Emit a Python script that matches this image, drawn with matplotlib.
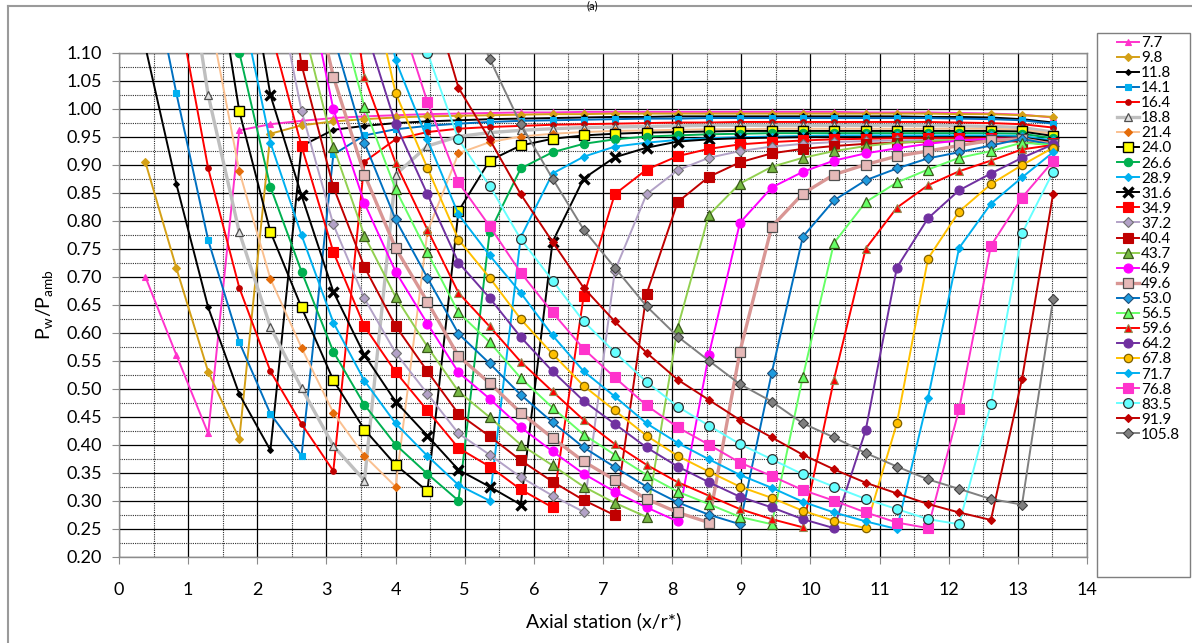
import numpy as np
import matplotlib
matplotlib.use('Agg')
import matplotlib.pyplot as plt
from matplotlib.patches import Rectangle
from matplotlib.lines import Line2D
from matplotlib.ticker import MultipleLocator, FormatStrFormatter

plt.rcParams['font.family'] = ['Lato', 'DejaVu Sans']
plt.rcParams['mathtext.fontset'] = 'custom'
plt.rcParams['mathtext.rm'] = 'Lato'
plt.rcParams['mathtext.it'] = 'Lato'

N = None
# axial stations (x/r*)
x_station = [0.38, 0.83, 1.29, 1.74, 2.19, 2.64, 3.10, 3.55, 4.00, 4.46,
             4.91, 5.36, 5.81, 6.27, 6.72, 7.17, 7.63, 8.08, 8.53, 8.98,
             9.44, 9.89, 10.34, 10.80, 11.25, 11.70, 12.15, 12.61, 13.06, 13.51]

labels = ['7.7', '9.8', '11.8', '14.1', '16.4', '18.8', '21.4', '24.0', '26.6',
          '28.9', '31.6', '34.9', '37.2', '40.4', '43.7', '46.9', '49.6', '53.0',
          '56.5', '59.6', '64.2', '67.8', '71.7', '76.8', '83.5', '91.9', '105.8']

p_7_7 = [0.700, 0.560, 0.420, 0.961, 0.972,
         0.978, 0.983, 0.986, 0.988, 0.990,
         0.991, 0.992, 0.993, 0.993, 0.994,
         0.994, 0.994, 0.994, 0.994, 0.994,
         0.994, 0.994, 0.994, 0.993, 0.993,
         0.993, 0.992, 0.991, 0.989, 0.984]
p_9_8 = [0.905, 0.715, 0.530, 0.410, 0.955,
         0.970, 0.977, 0.981, 0.984, 0.986,
         0.987, 0.988, 0.989, 0.990, 0.990,
         0.991, 0.991, 0.991, 0.991, 0.991,
         0.991, 0.991, 0.991, 0.991, 0.991,
         0.991, 0.990, 0.990, 0.988, 0.985]
p_11_8 = [1.111, 0.865, 0.645, 0.490, 0.390,
          0.933, 0.962, 0.969, 0.974, 0.977,
          0.979, 0.981, 0.982, 0.983, 0.984,
          0.985, 0.985, 0.986, 0.986, 0.986,
          0.986, 0.986, 0.986, 0.986, 0.986,
          0.985, 0.985, 0.984, 0.981, 0.975]
p_14_1 = [1.300, 1.027, 0.765, 0.583, 0.455,
          0.380, 0.918, 0.952, 0.963, 0.969,
          0.973, 0.976, 0.978, 0.979, 0.980,
          0.981, 0.982, 0.982, 0.983, 0.983,
          0.983, 0.983, 0.983, 0.983, 0.983,
          0.983, 0.982, 0.981, 0.979, 0.973]
p_16_4 = [N, 1.200, 0.893, 0.680, 0.531,
          0.437, 0.353, 0.905, 0.945, 0.958,
          0.964, 0.967, 0.969, 0.971, 0.972,
          0.973, 0.974, 0.975, 0.975, 0.976,
          0.976, 0.976, 0.976, 0.976, 0.976,
          0.976, 0.975, 0.974, 0.972, 0.966]
p_18_8 = [N, 1.390, 1.024, 0.779, 0.610,
          0.501, 0.398, 0.336, 0.882, 0.933,
          0.950, 0.957, 0.961, 0.964, 0.966,
          0.967, 0.968, 0.969, 0.970, 0.970,
          0.970, 0.970, 0.970, 0.970, 0.970,
          0.970, 0.969, 0.968, 0.966, 0.958]
p_21_4 = [N, N, 1.179, 0.888, 0.696,
          0.573, 0.457, 0.380, 0.325, 0.780,
          0.920, 0.940, 0.950, 0.955, 0.958,
          0.960, 0.961, 0.962, 0.963, 0.963,
          0.964, 0.964, 0.964, 0.964, 0.964,
          0.964, 0.964, 0.964, 0.962, 0.955]
p_24_0 = [N, N, 1.342, 0.995, 0.780,
          0.645, 0.515, 0.427, 0.364, 0.317,
          0.817, 0.907, 0.934, 0.946, 0.952,
          0.955, 0.957, 0.958, 0.959, 0.960,
          0.960, 0.960, 0.960, 0.960, 0.960,
          0.960, 0.960, 0.960, 0.959, 0.951]
p_26_6 = [N, N, 1.450, 1.100, 0.860,
          0.709, 0.566, 0.471, 0.400, 0.348,
          0.300, 0.779, 0.893, 0.922, 0.937,
          0.945, 0.950, 0.952, 0.954, 0.955,
          0.956, 0.956, 0.956, 0.956, 0.956,
          0.956, 0.956, 0.956, 0.955, 0.947]
p_28_9 = [N, N, N, 1.205, 0.939,
          0.774, 0.618, 0.514, 0.438, 0.380,
          0.328, 0.300, 0.770, 0.884, 0.914,
          0.932, 0.939, 0.944, 0.947, 0.949,
          0.950, 0.951, 0.952, 0.952, 0.952,
          0.952, 0.952, 0.952, 0.951, 0.943]
p_31_6 = [N, N, N, 1.350, 1.024,
          0.845, 0.673, 0.560, 0.477, 0.416,
          0.355, 0.325, 0.293, 0.762, 0.875,
          0.913, 0.930, 0.941, 0.945, 0.947,
          0.948, 0.949, 0.949, 0.949, 0.949,
          0.949, 0.949, 0.949, 0.948, 0.941]
p_34_9 = [N, N, N, N, 1.141,
          0.933, 0.744, 0.611, 0.530, 0.461,
          0.394, 0.361, 0.320, 0.288, 0.665,
          0.847, 0.891, 0.915, 0.928, 0.936,
          0.940, 0.943, 0.945, 0.946, 0.947,
          0.947, 0.947, 0.947, 0.946, 0.938]
p_37_2 = [N, N, N, N, 1.273,
          0.996, 0.793, 0.661, 0.564, 0.491,
          0.420, 0.382, 0.342, 0.309, 0.280,
          0.710, 0.847, 0.890, 0.912, 0.924,
          0.932, 0.937, 0.940, 0.942, 0.943,
          0.944, 0.944, 0.944, 0.943, 0.936]
p_40_4 = [N, N, N, N, 1.450,
          1.078, 0.860, 0.717, 0.612, 0.531,
          0.455, 0.415, 0.372, 0.334, 0.301,
          0.274, 0.669, 0.833, 0.878, 0.904,
          0.920, 0.928, 0.933, 0.937, 0.939,
          0.941, 0.942, 0.942, 0.941, 0.934]
p_43_7 = [N, N, N, N, N,
          1.159, 0.932, 0.773, 0.664, 0.575,
          0.495, 0.449, 0.400, 0.363, 0.325,
          0.296, 0.271, 0.609, 0.810, 0.866,
          0.896, 0.912, 0.924, 0.933, 0.939,
          0.942, 0.944, 0.945, 0.945, 0.935]
p_46_9 = [N, N, N, N, N,
          1.272, 0.999, 0.831, 0.709, 0.616,
          0.529, 0.482, 0.431, 0.388, 0.348,
          0.316, 0.288, 0.263, 0.560, 0.796,
          0.859, 0.887, 0.907, 0.920, 0.929,
          0.937, 0.943, 0.946, 0.946, 0.936]
p_49_6 = [N, N, N, N, N,
          1.300, 1.057, 0.882, 0.751, 0.655,
          0.558, 0.510, 0.457, 0.412, 0.370,
          0.337, 0.303, 0.279, 0.261, 0.566,
          0.789, 0.848, 0.882, 0.900, 0.915,
          0.924, 0.934, 0.943, 0.946, 0.936]
p_53_0 = [N, N, N, N, N,
          N, 1.130, 0.939, 0.802, 0.698,
          0.598, 0.545, 0.489, 0.440, 0.395,
          0.360, 0.325, 0.297, 0.275, 0.258,
          0.528, 0.771, 0.836, 0.872, 0.893,
          0.911, 0.922, 0.934, 0.946, 0.935]
p_56_5 = [N, N, N, N, N,
          N, 1.210, 1.003, 0.856, 0.743,
          0.636, 0.583, 0.519, 0.466, 0.418,
          0.382, 0.346, 0.316, 0.294, 0.271,
          0.258, 0.521, 0.760, 0.833, 0.868,
          0.891, 0.912, 0.924, 0.939, 0.935]
p_59_6 = [N, N, N, N, N,
          N, 1.400, 1.056, 0.903, 0.784,
          0.671, 0.611, 0.548, 0.495, 0.444,
          0.401, 0.364, 0.333, 0.309, 0.285,
          0.267, 0.2525, 0.516, 0.750, 0.823,
          0.863, 0.888, 0.907, 0.927, 0.935]
p_64_2 = [N, N, N, N, N,
          N, N, 1.149, 0.972, 0.847,
          0.725, 0.662, 0.592, 0.531, 0.478,
          0.437, 0.395, 0.361, 0.333, 0.307,
          0.288, 0.267, 0.251, 0.426, 0.716,
          0.804, 0.854, 0.884, 0.912, 0.936]
p_67_8 = [N, N, N, N, N,
          N, N, 1.276, 1.028, 0.894,
          0.766, 0.698, 0.624, 0.562, 0.505,
          0.461, 0.416, 0.380, 0.352, 0.325,
          0.305, 0.282, 0.264, 0.251, 0.438,
          0.732, 0.816, 0.865, 0.899, 0.930]
p_71_7 = [N, N, N, N, N,
          N, N, 1.400, 1.086, 0.945,
          0.811, 0.738, 0.671, 0.595, 0.531,
          0.486, 0.438, 0.403, 0.374, 0.346,
          0.323, 0.298, 0.279, 0.263, 0.2495,
          0.483, 0.751, 0.830, 0.877, 0.922]
p_76_8 = [N, N, N, N, N,
          N, N, N, 1.188, 1.012,
          0.868, 0.790, 0.707, 0.636, 0.571,
          0.520, 0.470, 0.431, 0.400, 0.368,
          0.344, 0.319, 0.300, 0.279, 0.261,
          0.251, 0.463, 0.755, 0.841, 0.906]
p_83_5 = [N, N, N, N, N,
          N, N, N, 1.350, 1.100,
          0.945, 0.862, 0.767, 0.693, 0.620,
          0.565, 0.512, 0.468, 0.434, 0.401,
          0.374, 0.347, 0.325, 0.303, 0.285,
          0.267, 0.258, 0.472, 0.777, 0.887]
p_91_9 = [N, N, N, N, N,
          N, N, N, N, 1.226,
          1.037, 0.945, 0.847, 0.762, 0.680,
          0.620, 0.564, 0.516, 0.480, 0.444,
          0.413, 0.382, 0.356, 0.332, 0.313,
          0.294, 0.279, 0.2656, 0.517, 0.848]
p_105_8 = [N, N, N, N, N,
           N, N, N, N, N,
           1.220, 1.089, 0.972, 0.875, 0.784,
           0.716, 0.647, 0.593, 0.550, 0.508,
           0.477, 0.438, 0.413, 0.385, 0.361,
           0.338, 0.321, 0.303, 0.293, 0.660]

series = [p_7_7, p_9_8, p_11_8, p_14_1, p_16_4, p_18_8, p_21_4, p_24_0, p_26_6,
          p_28_9, p_31_6, p_34_9, p_37_2, p_40_4, p_43_7, p_46_9, p_49_6, p_53_0,
          p_56_5, p_59_6, p_64_2, p_67_8, p_71_7, p_76_8, p_83_5, p_91_9, p_105_8]

# styles: (line colour, marker, face, edge, marker size, line width, marker edge width)
styles = [
    ('#FF33CC', '^', '#FF33CC', '#FF33CC', 4.5, 1.4, 0.8),
    ('#D4A017', 'D', '#D4A017', '#D4A017', 3.8, 1.4, 0.8),
    ('#000000', 'D', '#000000', '#000000', 3.0, 1.4, 0.8),
    ('#0070C0', 's', '#00B0F0', '#00B0F0', 5.0, 1.4, 0.8),
    ('#FF0000', 'o', '#C00000', '#C00000', 4.0, 1.4, 0.8),
    ('#BFBFBF', '^', '#E0E0E0', '#505050', 5.5, 2.4, 0.9),
    ('#FAC090', 'D', '#E46C0A', '#E46C0A', 4.0, 1.4, 0.8),
    ('#000000', 's', '#FFFF00', '#000000', 6.5, 1.4, 1.0),
    ('#00B050', 'o', '#00B050', '#00B050', 6.0, 1.4, 0.8),
    ('#00B0F0', 'D', '#00B0F0', '#00B0F0', 3.6, 1.4, 0.8),
    ('#000000', 'x', '#000000', '#000000', 7.0, 1.4, 2.4),
    ('#FF0000', 's', '#FF0000', '#FF0000', 6.5, 1.4, 0.8),
    ('#B3A2C7', 'D', '#B3A2C7', '#707070', 5.0, 1.4, 0.8),
    ('#C00000', 's', '#C00000', '#C00000', 6.5, 1.4, 0.8),
    ('#92D050', '^', '#77B843', '#3A5A1A', 6.5, 1.4, 0.9),
    ('#FF00FF', 'o', '#FF00FF', '#FF00FF', 6.5, 1.4, 0.8),
    ('#D99694', 's', '#E6B9B8', '#505050', 7.0, 2.4, 0.9),
    ('#0070C0', 'D', '#1F9BDE', '#1F4E79', 5.0, 1.4, 0.8),
    ('#66FF66', '^', '#66FF66', '#3A5A1A', 6.5, 1.4, 0.9),
    ('#FF0000', '^', '#FF0000', '#948A54', 6.0, 1.4, 0.8),
    ('#7030A0', 'o', '#7030A0', '#7030A0', 6.5, 1.4, 0.8),
    ('#FFC000', 'o', '#FFC000', '#7F6000', 6.0, 1.4, 0.9),
    ('#00B0F0', 'D', '#00B0F0', '#00B0F0', 3.6, 1.4, 0.8),
    ('#FF33CC', 's', '#FF33CC', '#FF33CC', 6.5, 1.4, 0.8),
    ('#66FFFF', 'o', '#66FFFF', '#303030', 7.0, 1.4, 0.9),
    ('#C00000', 'D', '#C00000', '#C00000', 3.8, 1.4, 0.8),
    ('#808080', 'D', '#7F7F7F', '#404040', 5.0, 1.4, 0.8),
]

W, H = 1192, 643
fig = plt.figure(figsize=(W / 100, H / 100), dpi=100)
ax = fig.add_axes([119 / W, 1 - 556.7 / H, (1087 - 119) / W, (556.7 - 52.5) / H])

x_arr = np.array(x_station, dtype=float)
handles = []
for vals, lab, st in zip(series, labels, styles):
    y = np.array([np.nan if v is None else v for v in vals], dtype=float)
    lc, mk, mf, me, ms, lw, mew = st
    h, = ax.plot(x_arr, y, color=lc, lw=lw, marker=mk, markersize=ms,
                 markerfacecolor=mf, markeredgecolor=me, markeredgewidth=mew,
                 label=lab, zorder=3)
    handles.append(h)

ax.set_xlim(0, 14)
ax.set_ylim(0.20, 1.10)
ax.xaxis.set_major_locator(MultipleLocator(1))
ax.xaxis.set_minor_locator(MultipleLocator(0.5))
ax.yaxis.set_major_locator(MultipleLocator(0.05))
ax.yaxis.set_minor_locator(MultipleLocator(0.025))
ax.yaxis.set_major_formatter(FormatStrFormatter('%.2f'))
ax.grid(which='major', color='#000000', lw=0.9)
ax.grid(which='minor', color='#303030', lw=0.8, linestyle=(0, (1, 1)))
ax.set_axisbelow(True)
for sp in ax.spines.values():
    sp.set_color('#8C8C8C')
    sp.set_linewidth(1.0)
ax.tick_params(axis='both', which='major', labelsize=13, color='#8C8C8C',
               direction='out', length=5)
ax.tick_params(axis='x', which='major', pad=13)
ax.tick_params(axis='y', which='major', pad=7)
ax.tick_params(which='minor', length=0)

ax.set_xlabel('Axial station (x/r*)', fontsize=14)
ax.xaxis.set_label_coords(0.501, -0.11)
ax.set_ylabel(r'P$_{\mathrm{w}}$/P$_{\mathrm{amb}}$', fontsize=14)
ax.yaxis.set_label_coords(-0.066, 0.5)

# legend with manual box
fig.add_artist(Rectangle((1097 / W, 1 - 577 / H), 93 / W, 544 / H,
                         transform=fig.transFigure, fill=False,
                         edgecolor='#7F7F7F', lw=1.0))
fig.legend(handles, labels, loc='upper left', bbox_to_anchor=(1117 / W, 1 - 36 / H),
           bbox_transform=fig.transFigure, frameon=False, fontsize=11,
           handlelength=1.45, handletextpad=0.12, labelspacing=0.07,
           borderpad=0, borderaxespad=0)

# outer frame of the figure
fig.add_artist(Line2D([8 / W, 8 / W], [0, 1 - 6 / H], transform=fig.transFigure,
                      color='#9A9A9A', lw=1.5))
fig.add_artist(Line2D([8 / W, 1], [1 - 6 / H, 1 - 6 / H], transform=fig.transFigure,
                      color='#9A9A9A', lw=1.5))
fig.text(0.497, 0.999, '(a)', ha='center', va='top', fontsize=8)

fig.savefig('out.png', dpi=100)
